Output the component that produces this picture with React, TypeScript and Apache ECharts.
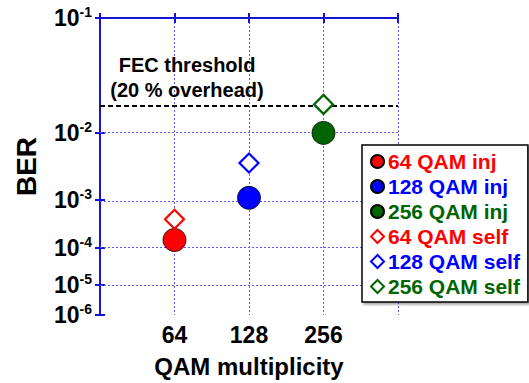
import React, { useEffect, useRef } from "react";
import * as echarts from "echarts";

// ---- data ----
const xCategories = ["64", "128", "256"];
const xPositions = [1, 2, 3];
const yTickExponents = [1, 2, 3, 4, 5, 6]; // 10^-n
const fecThreshold = 2e-2;

const seriesNames = [
  "64 QAM inj",
  "128 QAM inj",
  "256 QAM inj",
  "64 QAM self",
  "128 QAM self",
  "256 QAM self",
];
const seriesColors = ["#ff0000", "#0000ff", "#006400", "#ff0000", "#0000ff", "#006400"];
const seriesX = [1, 2, 3, 1, 2, 3];
const injBER = [1.53e-4, 1.1e-3, 1.0e-2];
const selfBER = [4.3e-4, 4.0e-3, 2.07e-2];

// BER scale: y = log10(-log10(BER))
const tf = (ber: number) => Math.log10(-Math.log10(ber));

const FONT = "'Liberation Sans', Arial, sans-serif";
const AXIS_BLUE = "#1414d2";
const GRID_BLUE = "#5a5aff";

export default function App() {
  const ref = useRef<HTMLDivElement>(null);
  useEffect(() => {
    document.body.style.margin = "0";
    if (!ref.current) return;
    const chart = echarts.init(ref.current, undefined, { renderer: "svg" });
    const yTickValues = yTickExponents.map((n) => tf(Math.pow(10, -n)));
    const yMax = tf(Math.pow(10, -yTickExponents[yTickExponents.length - 1]));
    const yLabelFmt = (v: number) => {
      const n = Math.round(Math.pow(10, v));
      return `{b|10}{s|-${n}}`;
    };
    const yRich = {
      b: { fontSize: 23, fontWeight: "bold", color: "#000", fontFamily: FONT },
      s: { fontSize: 14, fontWeight: "bold", color: "#000", fontFamily: FONT, padding: [0, 0, 12, 0] },
    };
    const allBER = [...injBER, ...selfBER];
    const series: any[] = seriesNames.map((name, i) => {
      const isInj = i < 3;
      const s: any = {
        name,
        type: "scatter",
        data: [[seriesX[i], tf(allBER[i])]],
        symbol: isInj ? "circle" : "diamond",
        symbolSize: isInj ? 23 : 19,
        itemStyle: isInj
          ? { color: seriesColors[i], borderColor: "#000", borderWidth: 0.8, opacity: 1 }
          : { color: "#fff", borderColor: seriesColors[i], borderWidth: 2.2, opacity: 1 },
        z: 5,
      };
      return s;
    });
    series.push({
      name: "_grid",
      type: "scatter",
      data: [],
      silent: true,
      z: 1,
      markLine: {
        silent: true,
        symbol: "none",
        label: { show: false },
        lineStyle: { color: GRID_BLUE, type: [2, 2], width: 1 },
        data: yTickValues.slice(1, yTickValues.length - 1).map((v) => ({ yAxis: v })),
      },
    });
    series.push({
      name: "_fec",
      type: "scatter",
      data: [],
      silent: true,
      z: 2,
      markLine: {
        silent: true,
        symbol: "none",
        label: { show: false },
        lineStyle: { color: "#000", type: [5, 3], width: 2 },
        data: [{ yAxis: tf(fecThreshold) }],
      },
    });

    const xCommon = {
      type: "value",
      min: 0,
      max: 4,
      interval: 1,
      axisLine: { show: true, lineStyle: { color: AXIS_BLUE, width: 2 } },
      axisTick: { show: true, inside: true, length: 5, lineStyle: { color: AXIS_BLUE, width: 2 } },
    };
    const yCommon = {
      type: "value",
      inverse: true,
      min: 0,
      max: yMax,
      axisLine: { show: true, lineStyle: { color: AXIS_BLUE, width: 2 } },
      axisTick: {
        show: true,
        inside: true,
        length: 5,
        customValues: yTickValues,
        lineStyle: { color: AXIS_BLUE, width: 2 },
      },
      splitLine: { show: false },
    };

    chart.setOption({
      animation: false,
      backgroundColor: "#fff",
      textStyle: { fontFamily: FONT },
      grid: { left: 100, right: 131, top: 18, bottom: 68, containLabel: false },
      xAxis: [
        {
          ...xCommon,
          position: "bottom",
          name: "QAM multiplicity",
          nameLocation: "middle",
          nameGap: 39,
          nameTextStyle: { fontSize: 24, fontWeight: "bold", color: "#000", fontFamily: FONT },
          axisLabel: {
            fontSize: 23,
            fontWeight: "bold",
            color: "#000",
            fontFamily: FONT,
            margin: 8,
            formatter: (v: number) => {
              const idx = xPositions.indexOf(v);
              return idx >= 0 ? xCategories[idx] : "";
            },
          },
          splitLine: { show: true, lineStyle: { color: GRID_BLUE, type: [2, 2], width: 1 } },
        },
        {
          ...xCommon,
          position: "top",
          axisLabel: { show: false },
          splitLine: { show: false },
        },
      ],
      yAxis: [
        {
          ...yCommon,
          position: "left",
          name: "BER",
          nameLocation: "middle",
          nameGap: 60,
          nameTextStyle: { fontSize: 28, fontWeight: "bold", color: "#000", fontFamily: FONT },
          axisLabel: {
            customValues: yTickValues,
            margin: 8,
            formatter: yLabelFmt,
            rich: yRich,
          },
        },
        {
          ...yCommon,
          position: "right",
          axisLabel: { show: false },
        },
      ],
      legend: {
        orient: "vertical",
        left: 362,
        top: 145,
        backgroundColor: "#fff",
        borderColor: "#000",
        borderWidth: 1.5,
        padding: [6, 8, 5, 8],
        itemGap: 4,
        itemWidth: 13,
        itemHeight: 13,
        shadowColor: "rgba(0,0,0,0.35)",
        shadowOffsetX: 2,
        shadowOffsetY: 2,
        shadowBlur: 2,
        z: 10,
        textStyle: { fontSize: 21, fontWeight: "bold", fontFamily: FONT, padding: [0, 0, 0, -1] },
        data: seriesNames.map((name, i) => ({
          name,
          textStyle: { color: seriesColors[i] },
        })),
      },
      graphic: [
        {
          type: "text",
          left: 187 - 80,
          top: 52,
          style: {
            text: "FEC threshold\n(20 % overhead)",
            font: `bold 20px ${FONT}`,
            fill: "#000",
            textAlign: "center",
            lineHeight: 25,
            width: 160,
          },
          z: 20,
        },
      ],
      series,
    });
    return () => chart.dispose();
  }, []);
  return <div ref={ref} style={{ width: 529, height: 383 }} />;
}
